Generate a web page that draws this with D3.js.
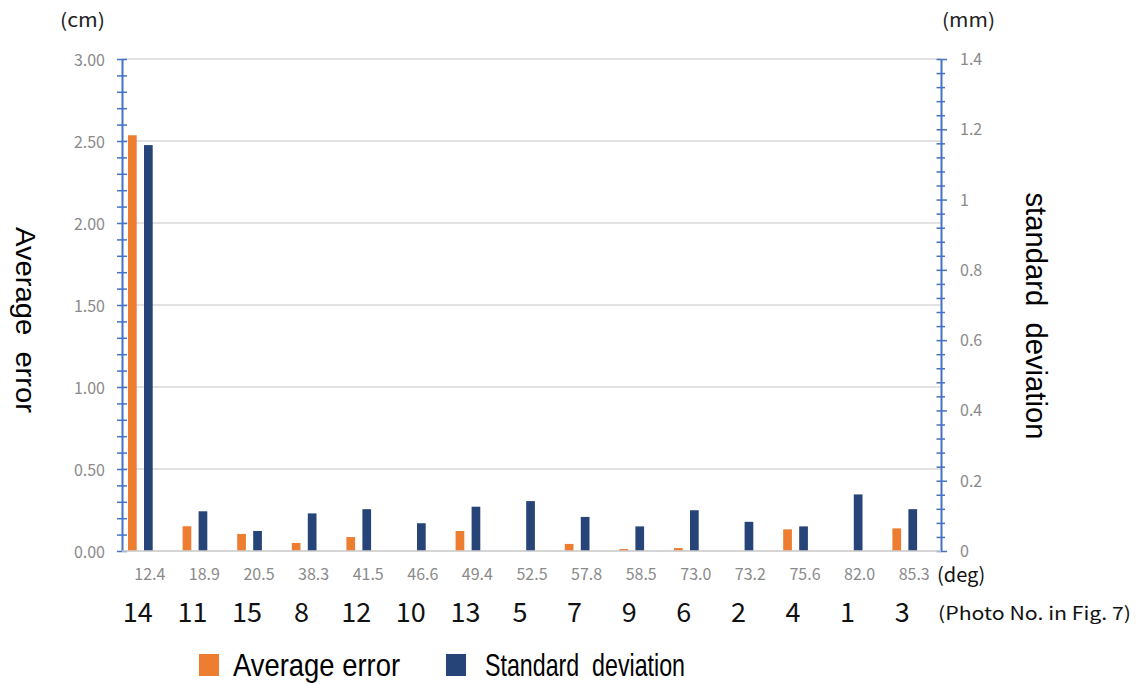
<!DOCTYPE html>
<html>
<head>
<meta charset="utf-8">
<script src="https://cdn.jsdelivr.net/npm/d3@7"></script>
<style>
  body { margin: 0; background: #fff; }
  svg { display: block; }
</style>
</head>
<body>
<div id="vis"></div>
<script>
const FRAME_WIDTH = 1138;
const FRAME_HEIGHT = 684;
const PLOT = {left: 122, right: 941, top: 59, bottom: 551};

// data
const DEG_LABELS = ["12.4", "18.9", "20.5", "38.3", "41.5", "46.6", "49.4", "52.5",
                    "57.8", "58.5", "73.0", "73.2", "75.6", "82.0", "85.3"];
const PHOTO_NO = ["14", "11", "15", "8", "12", "10", "13", "5", "7", "9", "6", "2", "4", "1", "3"];
const AVG_ERROR = [2.535, 0.151, 0.104, 0.049, 0.085, 0, 0.122, 0, 0.043, 0.012, 0.018, 0, 0.132, 0, 0.138];
const STD_DEV = [1.155, 0.113, 0.057, 0.107, 0.119, 0.079, 0.126, 0.142, 0.097, 0.070, 0.116, 0.083, 0.070, 0.161, 0.119];
const LEFT_TICKS = [0, 0.5, 1, 1.5, 2, 2.5, 3];
const RIGHT_TICKS = [0, 0.2, 0.4, 0.6, 0.8, 1, 1.2, 1.4];

const ORANGE = "#ED7D31";
const NAVY = "#264478";
const AXIS_BLUE = "#4472C4";
const TICK_GRAY = "#8a8a8a";

const NUM_FONT = "'Noto Sans CJK JP', 'Noto Sans', sans-serif";
const TXT_FONT = "'Liberation Sans', Arial, sans-serif";

const X_SCALE = d3.scaleBand()
  .domain(d3.range(DEG_LABELS.length))
  .range([PLOT.left, PLOT.right]);

const Y_LEFT = d3.scaleLinear()
  .domain([0, 3])
  .range([PLOT.bottom, PLOT.top]);

const Y_RIGHT = d3.scaleLinear()
  .domain([0, 1.4])
  .range([PLOT.bottom, PLOT.top]);

const SVG = d3.select("#vis")
  .append("svg")
    .attr("width", FRAME_WIDTH)
    .attr("height", FRAME_HEIGHT);

// gridlines
SVG.selectAll(".grid")
  .data(LEFT_TICKS)
  .enter()
  .append("line")
    .attr("x1", PLOT.left)
    .attr("x2", PLOT.right)
    .attr("y1", d => Y_LEFT(d))
    .attr("y2", d => Y_LEFT(d))
    .attr("stroke", "#d9d9d9")
    .attr("stroke-width", 1.5);

// bars
const BAR_W = 8.7;
const center = i => X_SCALE(i) + X_SCALE.bandwidth() / 2;

SVG.selectAll(".avg")
  .data(AVG_ERROR)
  .enter()
  .append("rect")
    .attr("x", (d, i) => center(i) - 21.3)
    .attr("y", d => Y_LEFT(d))
    .attr("width", BAR_W)
    .attr("height", d => Y_LEFT(0) - Y_LEFT(d))
    .attr("fill", ORANGE);

SVG.selectAll(".std")
  .data(STD_DEV)
  .enter()
  .append("rect")
    .attr("x", (d, i) => center(i) - 5.3)
    .attr("y", d => Y_RIGHT(d))
    .attr("width", BAR_W)
    .attr("height", d => Y_RIGHT(0) - Y_RIGHT(d))
    .attr("fill", NAVY);

// left axis
const leftAxis = SVG.append("g")
  .attr("transform", "translate(" + PLOT.left + ",0)")
  .call(d3.axisLeft(Y_LEFT).tickValues(d3.range(0, 3.01, 0.1)).tickSize(0).tickFormat(""));
leftAxis.select(".domain").attr("stroke", AXIS_BLUE).attr("stroke-width", 2);
leftAxis.selectAll(".tick line")
  .attr("x1", -5).attr("x2", 5)
  .attr("stroke", AXIS_BLUE).attr("stroke-width", 1.5);

SVG.selectAll(".lbl-left")
  .data(LEFT_TICKS)
  .enter()
  .append("text")
    .attr("x", 105)
    .attr("y", d => Y_LEFT(d))
    .attr("text-anchor", "end")
    .attr("dominant-baseline", "central")
    .attr("font-family", NUM_FONT)
    .attr("font-size", 16)
    .attr("fill", TICK_GRAY)
    .text(d => d3.format(".2f")(d));

// right axis
const rightAxis = SVG.append("g")
  .attr("transform", "translate(" + PLOT.right + ",0)")
  .call(d3.axisRight(Y_RIGHT).tickValues(d3.range(0, 1.401, 0.04)).tickSize(0).tickFormat(""));
rightAxis.select(".domain").attr("stroke", AXIS_BLUE).attr("stroke-width", 2);
rightAxis.selectAll(".tick line")
  .attr("x1", -4.5)
  .attr("x2", (d, i) => i % 5 === 0 ? 6 : 4)
  .attr("stroke", AXIS_BLUE).attr("stroke-width", 1.5);

SVG.selectAll(".lbl-right")
  .data(RIGHT_TICKS)
  .enter()
  .append("text")
    .attr("x", 960)
    .attr("y", d => Y_RIGHT(d) - 1)
    .attr("dominant-baseline", "central")
    .attr("font-family", NUM_FONT)
    .attr("font-size", 16)
    .attr("fill", TICK_GRAY)
    .text(d => String(+d.toFixed(1)));

// baseline
SVG.append("line")
  .attr("x1", PLOT.left).attr("x2", PLOT.right)
  .attr("y1", Y_LEFT(0)).attr("y2", Y_LEFT(0))
  .attr("stroke", "#d0d0d0").attr("stroke-width", 1.5);

// category labels
SVG.selectAll(".deg")
  .data(DEG_LABELS)
  .enter()
  .append("text")
    .attr("x", (d, i) => center(i) + 0.5)
    .attr("y", 580)
    .attr("text-anchor", "middle")
    .attr("font-family", NUM_FONT)
    .attr("font-size", 16)
    .attr("fill", TICK_GRAY)
    .text(d => d);

SVG.selectAll(".photo")
  .data(PHOTO_NO)
  .enter()
  .append("text")
    .attr("x", (d, i) => center(i) - 11.5)
    .attr("y", 622)
    .attr("text-anchor", "middle")
    .attr("font-family", NUM_FONT)
    .attr("font-size", 27)
    .attr("fill", "#111")
    .text(d => d);

SVG.append("text")
  .attr("x", 937).attr("y", 582)
  .attr("font-family", NUM_FONT).attr("font-size", 20).attr("fill", "#111")
  .text("(deg)");

SVG.append("text")
  .attr("x", 938).attr("y", 620)
  .attr("font-family", NUM_FONT).attr("font-size", 18).attr("fill", "#111")
  .attr("textLength", 193).attr("lengthAdjust", "spacingAndGlyphs")
  .text("(Photo No. in Fig. 7)");

// units
SVG.append("text")
  .attr("x", 60).attr("y", 27)
  .attr("font-family", NUM_FONT).attr("font-size", 19).attr("fill", "#222")
  .attr("textLength", 45).attr("lengthAdjust", "spacingAndGlyphs")
  .text("(cm)");

SVG.append("text")
  .attr("x", 942).attr("y", 27)
  .attr("font-family", NUM_FONT).attr("font-size", 19).attr("fill", "#222")
  .attr("textLength", 53).attr("lengthAdjust", "spacingAndGlyphs")
  .text("(mm)");

// axis titles
SVG.append("text")
  .attr("transform", "translate(25,320) rotate(90)")
  .attr("text-anchor", "middle")
  .attr("dominant-baseline", "central")
  .attr("font-family", TXT_FONT).attr("font-size", 27).attr("fill", "#000")
  .attr("textLength", 186).attr("lengthAdjust", "spacingAndGlyphs")
  .style("white-space", "pre")
  .text("Average  error");

SVG.append("text")
  .attr("transform", "translate(1036,316) rotate(90)")
  .attr("text-anchor", "middle")
  .attr("dominant-baseline", "central")
  .attr("font-family", TXT_FONT).attr("font-size", 29).attr("fill", "#000")
  .attr("textLength", 247).attr("lengthAdjust", "spacingAndGlyphs")
  .style("white-space", "pre")
  .text("standard  deviation");

// legend
const LEGEND = [
  {name: "Average error", color: ORANGE, x: 199, w: 167},
  {name: "Standard  deviation", color: NAVY, x: 446, w: 200}
];
const leg = SVG.selectAll(".legend")
  .data(LEGEND)
  .enter()
  .append("g")
    .attr("transform", d => "translate(" + d.x + ",0)");
leg.append("rect")
  .attr("x", 0).attr("y", 654)
  .attr("width", 20).attr("height", 22)
  .attr("fill", d => d.color);
leg.append("text")
  .attr("x", d => d.name.startsWith("Average") ? 34 : 39).attr("y", 676)
  .attr("font-family", TXT_FONT).attr("font-size", 32).attr("fill", "#000")
  .attr("textLength", d => d.w).attr("lengthAdjust", "spacingAndGlyphs")
  .style("white-space", "pre")
  .text(d => d.name);
</script>
</body>
</html>
